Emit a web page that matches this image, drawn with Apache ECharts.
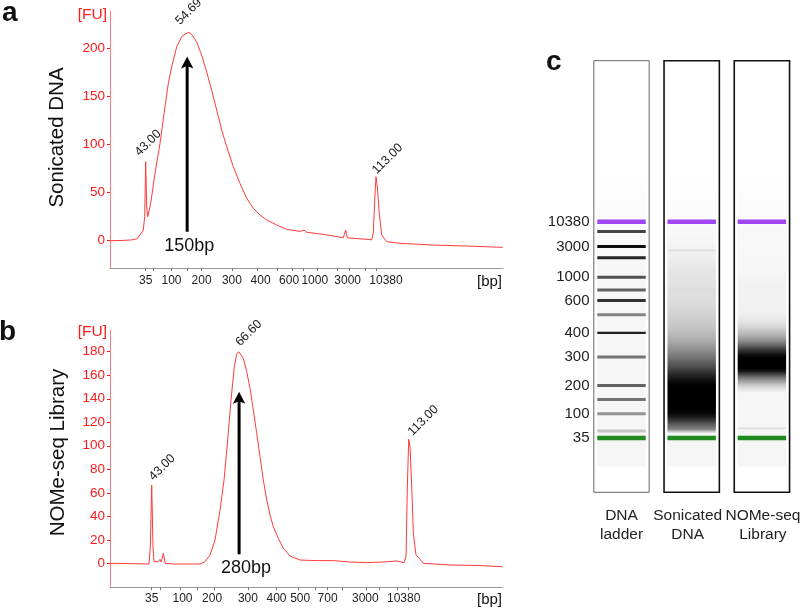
<!DOCTYPE html>
<html><head><meta charset="utf-8">
<script src="https://cdn.jsdelivr.net/npm/echarts@6/dist/echarts.min.js"></script>
<style>html,body{margin:0;padding:0;background:#fff}#c{width:800px;height:608px}</style>
</head><body><div id="c"></div>
<script>
// ---------------- data ----------------
// ladder sizes (bp) and their migration times (s)
const ladderBp   = [35, 50, 100, 150, 200, 300, 400, 500, 600, 700, 1000, 2000, 3000, 7000, 10380];
const ladderTime = [43.00, 45.3, 50.85, 55.5, 60.0, 69.2, 77.0, 82.9, 87.5, 90.9, 95.0, 101.3, 105.0, 109.8, 113.00];
// gel ladder band darkness (markers drawn separately -> null)
const ladderIntensity = [null, 0.2, 0.4, 0.53, 0.6, 0.53, 0.87, 0.47, 0.8, 0.6, 0.67, 0.85, 0.95, 0.73, null];
const markerTime = [43.00, 113.00];

const labelsA   = [35, 100, 200, 300, 400, 600, 1000, 3000, 10380];
const labelsB   = [35, 100, 200, 300, 400, 500, 700, 3000, 10380];
const labelsGel = [35, 100, 200, 300, 400, 600, 1000, 3000, 10380];
const fuTicksA = [0, 50, 100, 150, 200];
const fuTicksB = [0, 20, 40, 60, 80, 100, 120, 140, 160, 180];

// Sonicated DNA electropherogram (time s, FU)
const sonicatedTime = [32.15, 35.19, 38.74, 40.36, 41.27, 42.27, 42.70, 43.00, 43.30, 43.61, 44.52, 45.83, 47.35, 48.87, 49.87, 50.90, 52.42, 53.94, 55.25, 56.16, 56.98, 58.50, 60.02, 61.54, 63.06, 64.58, 66.10, 67.62, 69.63, 71.66, 73.70, 75.71, 77.74, 79.78, 82.82, 85.86, 89.90, 91.12, 91.94, 96.98, 100.02, 103.06, 103.79, 104.28, 108.14, 111.69, 112.18, 112.60, 113.00, 113.40, 114.00, 114.73, 116.25, 120.30, 130.42, 140.57, 151.51];
const sonicatedFU   = [0, 0.2, 0.8, 2, 6, 11, 25, 82, 35, 24.9, 38.8, 69.9, 101, 139, 163, 180.5, 201, 211.6, 215, 216, 214, 206, 192.6, 175, 156, 135.6, 114.8, 97.5, 76.8, 59.5, 44, 33.6, 26.7, 21.5, 16.3, 11.8, 9.7, 11, 8.7, 6.6, 4.9, 3.1, 11, 3, 2, 1, 7.7, 42, 66.4, 56, 28.4, 6, -1, -2.7, -4.5, -5.5, -6.9];

// NOMe-seq library electropherogram (time s, FU)
const nomeTime = [31.64, 37.99, 42.26, 42.62, 43.00, 43.35, 43.63, 44.80, 45.26, 45.62, 46.16, 46.70, 48.88, 56.16, 57.52, 58.88, 60.24, 61.61, 62.70, 63.70, 64.60, 65.50, 66.15, 66.70, 67.24, 67.95, 68.88, 69.78, 70.68, 71.60, 72.50, 73.40, 74.33, 75.23, 76.12, 77.49, 78.85, 80.67, 83.40, 87.95, 92.47, 97.02, 101.57, 106.09, 109.74, 111.73, 112.27, 112.63, 113.00, 113.36, 113.83, 114.26, 114.99, 115.62, 116.98, 124.26, 133.33, 138.61];
const nomeFU   = [0, -0.3, -0.6, 14, 66.6, 14, 1.4, 1.4, 3.4, 1.1, 8.5, 0, -0.6, -0.6, 1.4, 7, 19.8, 45.3, 70.9, 104.9, 139, 167.2, 178, 180, 179.2, 174.4, 163, 148.9, 130.4, 110.6, 90.7, 70.9, 53.8, 41.1, 31.1, 21.3, 12.8, 6.2, 2.8, 2.3, 2.3, 1.1, 0.6, 1.1, 2, 0.6, 5.7, 65, 105.5, 99.2, 65, 25.5, 7, 5.1, 0, -1.4, -2, -2.9];

// peak annotations (time s, FU)
const peakTimeA = [43.00, 54.69, 113.00];
const peakFUA   = [82, 216, 66.4];
const peakTimeB = [43.00, 66.60, 113.00];
const peakFUB   = [66.6, 180, 105.5];

// arrows (time s, FU from, FU to, label)
const arrowTime  = [55.6, 66.8];
const arrowFrom  = [9.3, 7.7];
const arrowTo    = [191, 146];
const arrowLabel = ['150bp', '280bp'];

const laneNames = ['DNA\nladder', 'Sonicated\nDNA', 'NOMe-seq\nLibrary'];

// ---------------- styles / layout ----------------
const FONT = '"Liberation Sans", Arial, sans-serif';
const RED = '#ff1a1a';
const LINE_RED = '#ff3a3a';
const GEL_T_MIN = 25.43, GEL_T_MAX = 165.1;
const LANE_HALF = 0.394, BAND_HALF = 0.345;
const laneBorder = [['#666', 1], ['#111', 1.6], ['#111', 1.6]];
const laneLabelDx = [0, -4, 1];
const markerColor = ['#1f8a1f', '#a046f5'];
const laneTint = [33.8, 130];
const shiftA = {400: 3, 600: -3, 1000: -2, 3000: -2, 10380: 10};
const shiftB = {100: 2, 200: -2, 500: 2, 3000: -14, 10380: -5};
const peakLabelPosA = [[-4, -3], [-2, -5], [3, 0]];
const peakLabelPosB = [[4, -2], [4, -3], [6, -1]];
const arrowLabelDx = [2, 7];

// ---------------- helpers ----------------
const bpOf = t => { const i = ladderTime.indexOf(t); return i >= 0 ? String(ladderBp[i]) : ''; };
const timesOf = bps => bps.map(b => ladderTime[ladderBp.indexOf(b)]);
const zip = (a, b) => a.map((v, i) => [v, b[i]]);
const keyOf = s => (s > 0 ? 'r' : 'l') + Math.abs(s);
function xFormatter(shifts) {
  return v => { const bp = bpOf(v); const s = shifts[bp]; return '{' + (s ? keyOf(s) : 'n') + '|' + bp + '}'; };
}
function richFor(shifts, fs) {
  const base = {fontSize: fs, color: '#222', fontFamily: FONT};
  const r = {n: base};
  for (const k in shifts) {
    const s = shifts[k];
    r[keyOf(s)] = Object.assign({}, base, {padding: s > 0 ? [0, 0, 0, 2 * s] : [0, -2 * s, 0, 0]});
  }
  return r;
}
const nearMarker = t => markerTime.some(m => Math.abs(t - m) < 2.7);
const laneSource = {2: [sonicatedTime, sonicatedFU], 3: [nomeTime, nomeFU]};

function xAxisFor(grid, min, max, labelBps, shifts, margin, fs) {
  return {
    type: 'value', gridIndex: grid, min: min, max: max,
    axisLine: {show: true, onZero: false, lineStyle: {color: '#9a9a9a', width: 1}},
    axisTick: {show: true, length: 3, customValues: ladderTime, lineStyle: {color: '#777'}},
    axisLabel: {show: true, customValues: timesOf(labelBps), formatter: xFormatter(shifts), rich: richFor(shifts, fs),
      margin: margin, hideOverlap: false, fontSize: fs, color: '#222', fontFamily: FONT},
    splitLine: {show: false}
  };
}
function yAxisFor(grid, min, max, ticks) {
  return {
    type: 'value', gridIndex: grid, min: min, max: max,
    axisLine: {show: true, lineStyle: {color: '#ff7a7a', width: 1}},
    axisTick: {show: true, length: 3, customValues: ticks, lineStyle: {color: RED}},
    axisLabel: {show: true, customValues: ticks, margin: 5, fontSize: 13.5, color: RED, fontFamily: FONT, hideOverlap: false},
    splitLine: {show: false}
  };
}
function traceSeries(idx, times, fus) {
  return {
    type: 'line', xAxisIndex: idx, yAxisIndex: idx, data: zip(times, fus),
    symbol: 'none', showSymbol: false, animation: false, silent: true,
    lineStyle: {color: LINE_RED, width: 1}, z: 3
  };
}
function peakSeries(idx, times, fus, pos) {
  return {
    type: 'scatter', xAxisIndex: idx, yAxisIndex: idx, symbolSize: 0.001, silent: true, animation: false, z: 5,
    itemStyle: {opacity: 1, color: '#000'},
    data: times.map((t, i) => ({value: [t, fus[i]], label: {position: pos[i]}})),
    label: {show: true, rotate: 45, align: 'left', verticalAlign: 'bottom', fontSize: 12.5, color: '#1a1a1a', opacity: 1,
      fontFamily: FONT, formatter: p => p.value[0].toFixed(2)}
  };
}
function arrowItem(params, api) {
  const idx = api.value(3);
  const p0 = api.coord([api.value(0), api.value(1)]);
  const p1 = api.coord([api.value(0), api.value(2)]);
  const x = p0[0];
  return {type: 'group', children: [
    {type: 'line', shape: {x1: x, y1: p0[1], x2: x, y2: p1[1] + 9}, style: {stroke: '#000', lineWidth: 3}},
    {type: 'polygon', shape: {points: [[x, p1[1]], [x + 6.2, p1[1] + 12], [x, p1[1] + 9.5], [x - 6.2, p1[1] + 12]]},
      style: {fill: '#000'}},
    {type: 'text', x: x + arrowLabelDx[idx], y: p0[1] + 14,
      style: {text: arrowLabel[idx], fill: '#111', fontSize: 18, fontFamily: FONT, align: 'center', verticalAlign: 'middle'}}
  ]};
}
function arrowSeries(idx) {
  return {type: 'custom', coordinateSystem: 'cartesian2d', xAxisIndex: idx, yAxisIndex: idx,
    renderItem: arrowItem, data: [[arrowTime[idx], arrowFrom[idx], arrowTo[idx], idx]],
    silent: true, animation: false, clip: false, z: 6};
}

// ---------------- gel render items ----------------
function laneItem(params, api) {
  const lane = api.value(0);
  const p0 = api.coord([lane - LANE_HALF, GEL_T_MAX]);
  const p1 = api.coord([lane + LANE_HALF, GEL_T_MIN]);
  const q0 = api.coord([lane - BAND_HALF, laneTint[1]]);
  const q1 = api.coord([lane + BAND_HALF, laneTint[0]]);
  const b = laneBorder[lane - 1];
  return {type: 'group', children: [
    {type: 'rect', shape: {x: p0[0], y: p0[1], width: p1[0] - p0[0], height: p1[1] - p0[1]},
      style: {fill: '#fff', stroke: b[0], lineWidth: b[1]}},
    {type: 'rect', shape: {x: q0[0], y: q0[1], width: q1[0] - q0[0], height: q1[1] - q0[1]},
      style: {fill: new echarts.graphic.LinearGradient(0, 0, 0, 1, [
        {offset: 0, color: 'rgba(0,0,0,0)'}, {offset: 0.35, color: 'rgba(0,0,0,0.035)'}, {offset: 1, color: 'rgba(0,0,0,0.04)'}])}},
    {type: 'text', x: (p0[0] + p1[0]) / 2 + laneLabelDx[lane - 1], y: p1[1] + 14,
      style: {text: laneNames[lane - 1], fill: '#222', fontSize: 15.5, lineHeight: 19, fontFamily: FONT,
        align: 'center', verticalAlign: 'top'}}
  ]};
}
function smearItem(params, api) {
  const lane = api.value(0);
  const src = laneSource[lane];
  const times = src[0], fus = src[1];
  // each lane is scaled to its own main peak (saturates at ~87% of max)
  let peak = 0;
  for (let i = 0; i < times.length; i++) if (!nearMarker(times[i])) peak = Math.max(peak, fus[i]);
  const sat = 0.87 * peak;
  const dark = fu => Math.pow(Math.min(1, Math.max(0, fu - 1.5) / sat), 0.75);
  const tTop = times[times.length - 1], tBot = times[0];
  const pTop = api.coord([lane - BAND_HALF, tTop]);
  const pBot = api.coord([lane + BAND_HALF, tBot]);
  const stops = [];
  for (let i = times.length - 1; i >= 0; i--) {
    const d = nearMarker(times[i]) ? 0 : dark(fus[i]);
    stops.push({offset: (tTop - times[i]) / (tTop - tBot), color: 'rgba(0,0,0,' + d.toFixed(3) + ')'});
  }
  return {type: 'rect', shape: {x: pTop[0], y: pTop[1], width: pBot[0] - pTop[0], height: pBot[1] - pTop[1]},
    style: {fill: new echarts.graphic.LinearGradient(0, 0, 0, 1, stops)}};
}
function ladderItem(params, api) {
  const t = api.value(1), d = api.value(2);
  const p0 = api.coord([1 - BAND_HALF, t]);
  const p1 = api.coord([1 + BAND_HALF, t]);
  const h = d > 0.85 && t < 80 ? 2.2 : 3;
  return {type: 'rect', shape: {x: p0[0], y: p0[1] - h / 2, width: p1[0] - p0[0], height: h},
    style: {fill: 'rgba(0,0,0,' + d + ')'}};
}
function markerItem(params, api) {
  const lane = api.value(0), t = api.value(1), c = api.value(2);
  const p0 = api.coord([lane - BAND_HALF, t]);
  const p1 = api.coord([lane + BAND_HALF, t]);
  return {type: 'rect', shape: {x: p0[0], y: p0[1] - 2.3, width: p1[0] - p0[0], height: 4.6},
    style: {fill: markerColor[c]}};
}

const ladderData = ladderTime.map((t, i) => [1, t, ladderIntensity[i]]).filter(d => d[2] !== null);
const markerData = [];
[1, 2, 3].forEach(l => markerTime.forEach((t, i) => markerData.push([l, t, i])));

function customSeries(renderItem, data, z) {
  return {type: 'custom', coordinateSystem: 'cartesian2d', xAxisIndex: 2, yAxisIndex: 2,
    renderItem: renderItem, data: data, silent: true, animation: false, clip: false, z: z};
}

// ---------------- text ----------------
function txt(text, x, y, opts) {
  return Object.assign({type: 'text', x: x, y: y, silent: true,
    style: Object.assign({text: text, fill: '#111', fontFamily: FONT, fontSize: 14, align: 'left', verticalAlign: 'middle'}, opts.style || {})},
    opts.rotation ? {rotation: opts.rotation} : {});
}

const chart = echarts.init(document.getElementById('c'), null, {renderer: 'canvas'});
chart.setOption({
  animation: false,
  backgroundColor: '#fff',
  textStyle: {fontFamily: FONT},
  grid: [
    {left: 110, top: 11, width: 393, height: 257, outerBoundsMode: 'none', containLabel: false},
    {left: 110, top: 330, width: 392.7, height: 257.3, outerBoundsMode: 'none', containLabel: false},
    {left: 586.4, top: 60.7, width: 210.6, height: 431.6, outerBoundsMode: 'none', containLabel: false}
  ],
  xAxis: [
    xAxisFor(0, 32.15, 151.6, labelsA, shiftA, 7, 12),
    xAxisFor(1, 31.64, 138.6, labelsB, shiftB, 5, 12),
    {type: 'value', gridIndex: 2, min: 0.5, max: 3.5,
      axisLine: {show: false}, axisTick: {show: false}, splitLine: {show: false}, axisLabel: {show: false}}
  ],
  yAxis: [
    yAxisFor(0, -28.3, 238.3, fuTicksA),
    yAxisFor(1, -20.4, 198.5, fuTicksB),
    {type: 'value', gridIndex: 2, min: GEL_T_MIN, max: GEL_T_MAX, offset: -7.6,
      axisLine: {show: false}, axisTick: {show: false}, splitLine: {show: false},
      axisLabel: {show: true, customValues: timesOf(labelsGel), formatter: v => bpOf(v),
        margin: 4.5, fontSize: 15, color: '#222', fontFamily: FONT, hideOverlap: false}}
  ],
  series: [
    traceSeries(0, sonicatedTime, sonicatedFU),
    traceSeries(1, nomeTime, nomeFU),
    peakSeries(0, peakTimeA, peakFUA, peakLabelPosA),
    peakSeries(1, peakTimeB, peakFUB, peakLabelPosB),
    arrowSeries(0),
    arrowSeries(1),
    customSeries(laneItem, [[1], [2], [3]], 1),
    customSeries(smearItem, [[2], [3]], 2),
    customSeries(ladderItem, ladderData, 3),
    customSeries(markerItem, markerData, 4)
  ],
  graphic: [
    txt('a', 2, 13, {style: {fontSize: 28, fontWeight: 'bold'}}),
    txt('b', -1, 332, {style: {fontSize: 28, fontWeight: 'bold'}}),
    txt('c', 546, 62, {style: {fontSize: 28, fontWeight: 'bold'}}),
    txt('Sonicated DNA', 57, 137.5, {rotation: Math.PI / 2, style: {fontSize: 20.5, align: 'center'}}),
    txt('NOMe-seq Library', 58, 452.5, {rotation: Math.PI / 2, style: {fontSize: 20.5, align: 'center'}}),
    txt('[FU]', 107, 15, {style: {fontSize: 15.5, align: 'right', fill: RED}}),
    txt('[FU]', 107, 332, {style: {fontSize: 15.5, align: 'right', fill: RED}}),
    txt('[bp]', 502, 282, {style: {fontSize: 15, align: 'right'}}),
    txt('[bp]', 502, 600, {style: {fontSize: 15, align: 'right'}})
  ]
});
</script>
</body></html>
